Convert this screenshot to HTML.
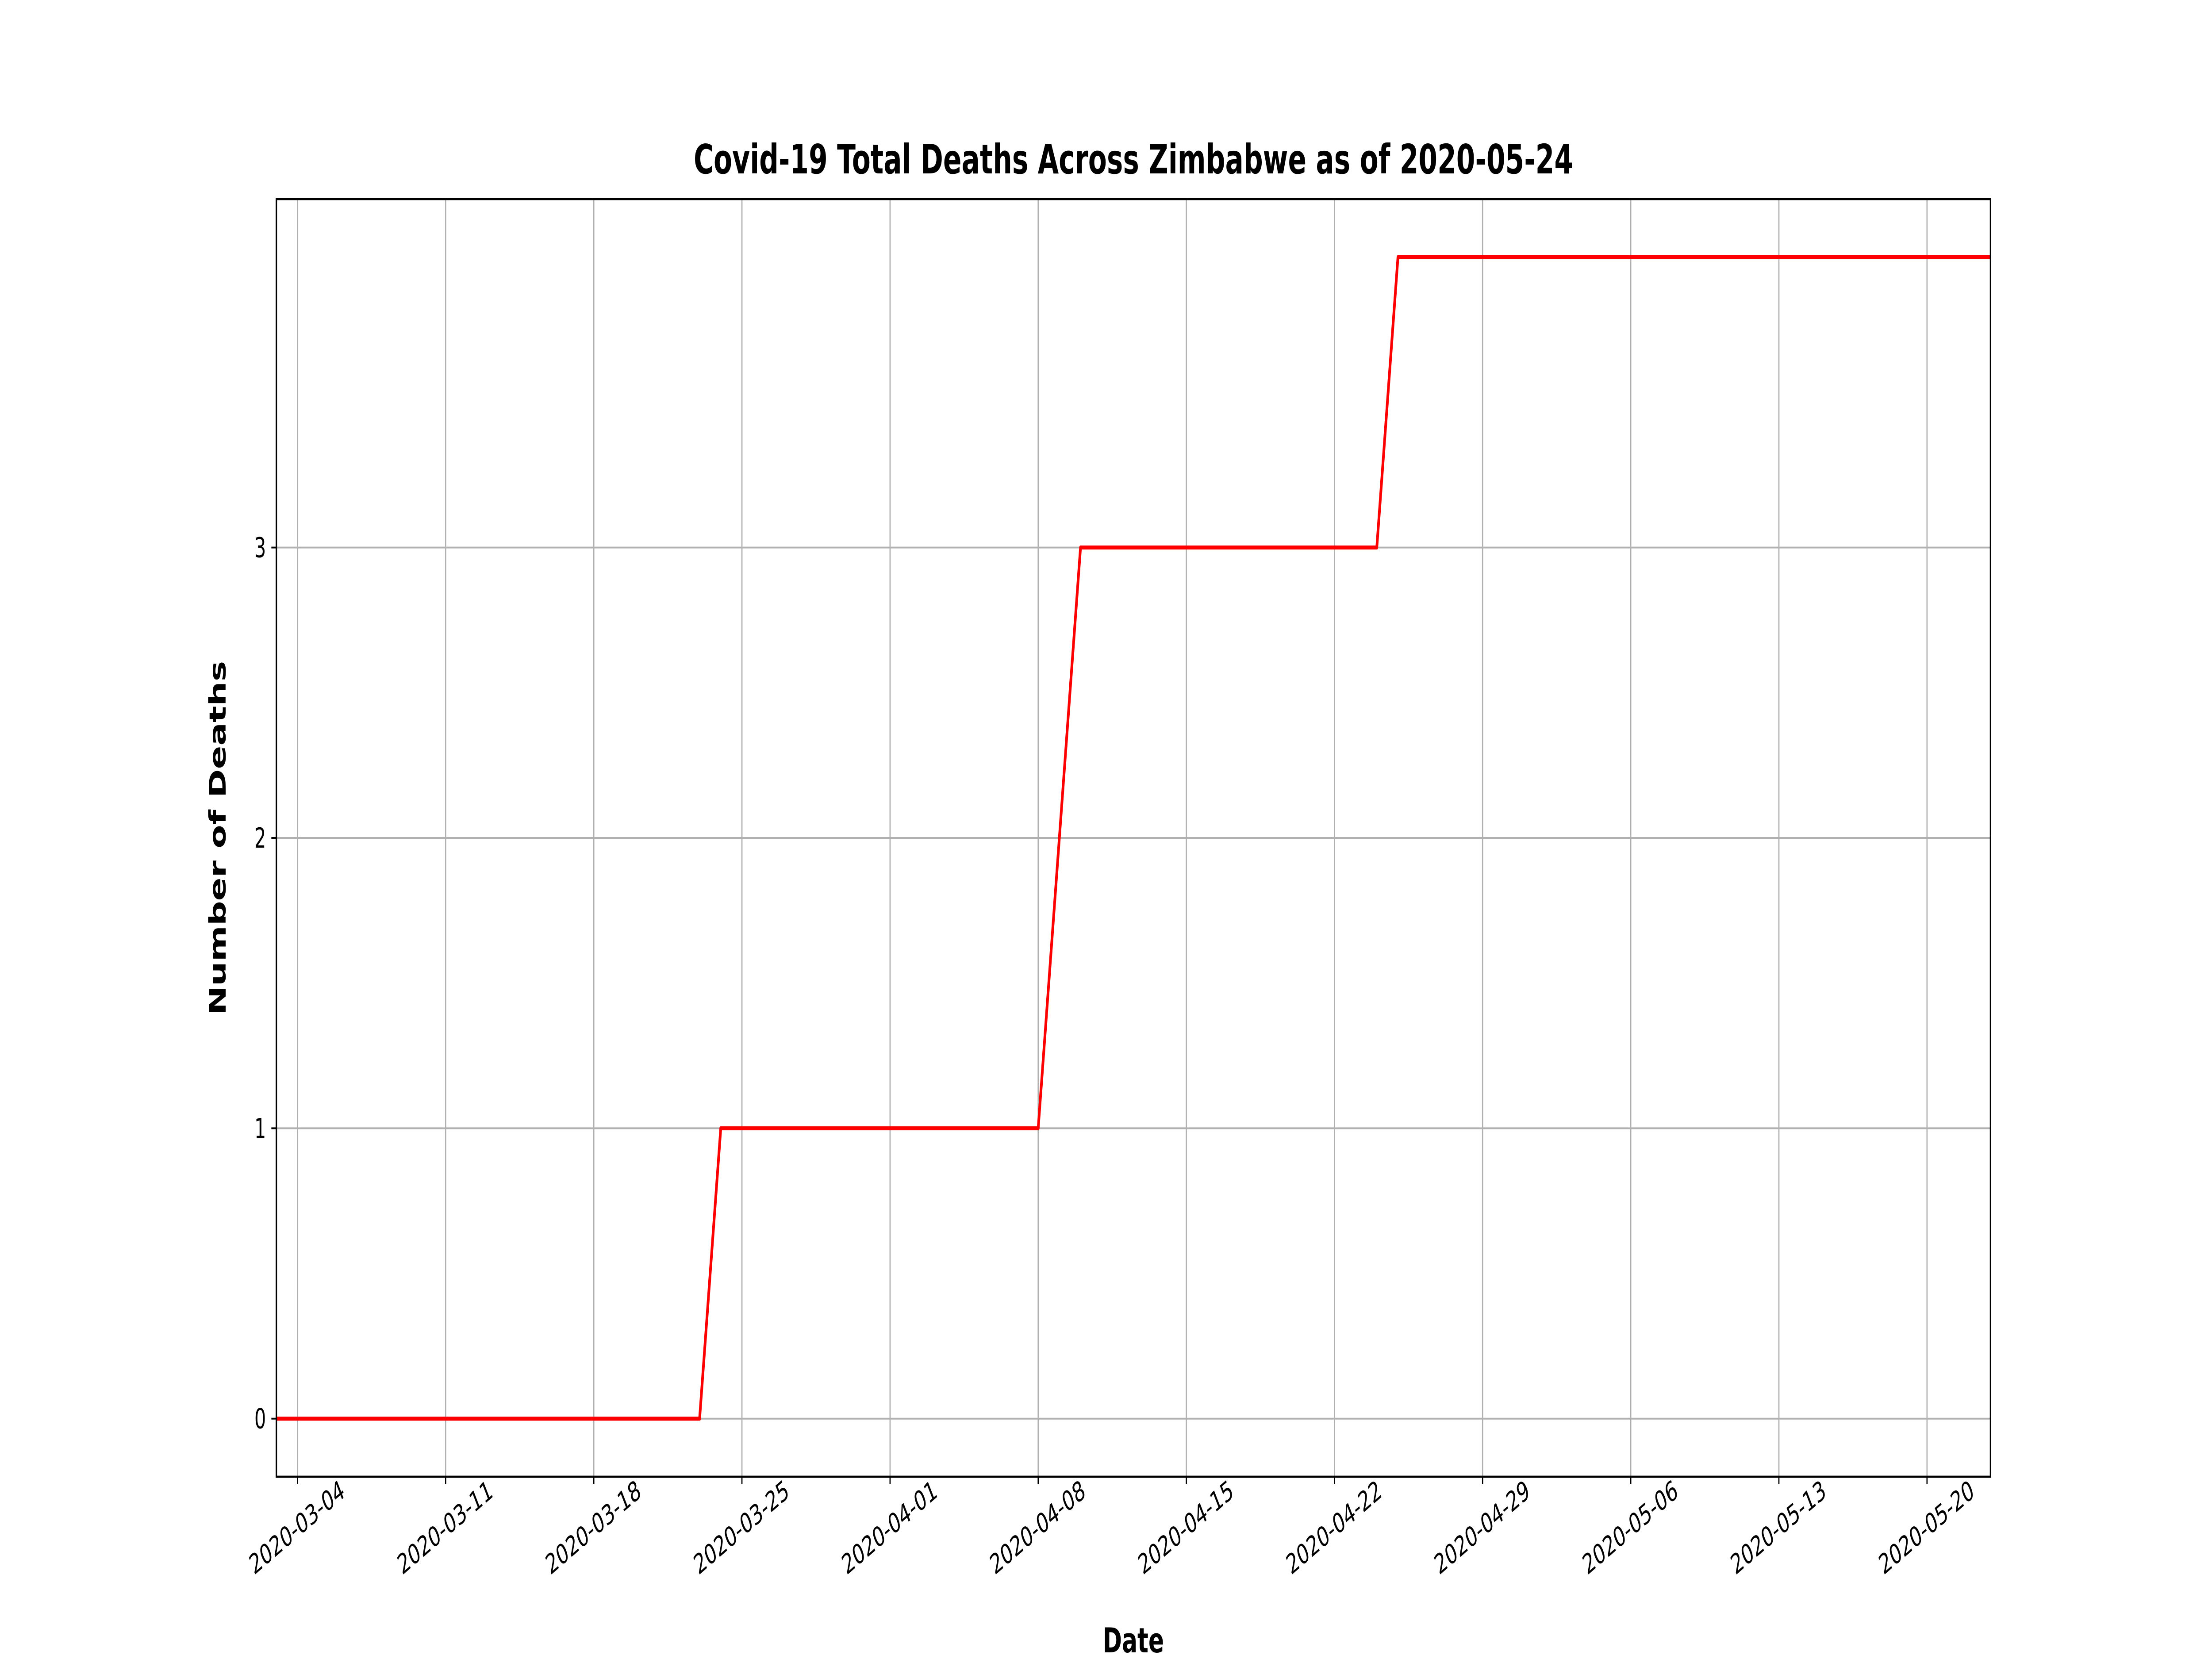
<!DOCTYPE html>
<html><head><meta charset="utf-8"><style>
html,body{margin:0;padding:0;background:#fff;width:100%;height:100%;overflow:hidden;}
svg{display:block;width:100vw;height:100vh;font-family:"DejaVu Sans","Liberation Sans",sans-serif;}
</style></head><body>
<svg id="chart" viewBox="0 0 7500 3750" preserveAspectRatio="none" xmlns="http://www.w3.org/2000/svg">
<rect width="7500" height="3750" fill="#fff"/>
<g id="grid"></g>
<g id="ticks"></g>
<g id="series"></g>
<rect x="937" y="450" width="5812" height="2888" fill="none" stroke="#000" stroke-width="4.8"/>
<text x="3843" y="392" font-size="92" font-weight="bold" text-anchor="middle">Covid-19 Total Deaths Across Zimbabwe as of 2020-05-24</text>
<text x="3843" y="3735" font-size="78" font-weight="bold" text-anchor="middle">Date</text>
<text x="0" y="0" font-size="78" font-weight="bold" text-anchor="middle" transform="translate(765,1894) rotate(-90)">Number of Deaths</text>
</svg>
<script>
const startDate = "2020-03-03";
const values = [0,0,0,0,0,0,0,0,0,0,0,0,0,0,0,0,0,0,0,0,0,
1,1,1,1,1,1,1,1,1,1,1,1,1,1,1,1,
2,
3,3,3,3,3,3,3,3,3,3,3,3,3,3,3,
4,4,4,4,4,4,4,4,4,4,4,4,4,4,4,4,4,4,4,4,4,4,4,4,4,4,4,4,4];
const xTickLabels = ["2020-03-04","2020-03-11","2020-03-18","2020-03-25","2020-04-01","2020-04-08","2020-04-15","2020-04-22","2020-04-29","2020-05-06","2020-05-13","2020-05-20"];
const yTicks = [0,1,2,3];

const NS="http://www.w3.org/2000/svg";
const L=937,R=6749,T=450,B=3338;
const d0=Date.parse(startDate);
const dayIdx=s=>(Date.parse(s)-d0)/86400000;
const xMax=values.length-1;
const x=i=>L+(i/xMax)*(R-L);
const yMin=-0.2,yMax=4.2;
const y=v=>B-(v-yMin)/(yMax-yMin)*(B-T);
function mk(tag,attrs,parent){const e=document.createElementNS(NS,tag);for(const k in attrs)e.setAttribute(k,attrs[k]);parent.appendChild(e);return e;}
const grid=document.getElementById('grid'),ticks=document.getElementById('ticks'),series=document.getElementById('series');
xTickLabels.forEach(lab=>{
  const px=x(dayIdx(lab));
  const g=mk('line',{x1:px,x2:px,y1:T,y2:B,stroke:'#b0b0b0','stroke-width':4},grid);
  
  
  const t=mk('line',{x1:px,x2:px,y1:B,y2:B+17,stroke:'#000','stroke-width':4},ticks);
  
  
  const tx=mk('text',{x:0,y:0,'font-size':62,'text-anchor':'middle','dominant-baseline':'middle',transform:`translate(${px},${B+118}) rotate(-30)`},ticks);
  tx.textContent=lab;
  
  
});
yTicks.forEach(v=>{
  const py=y(v);
  const g=mk('line',{x1:L,x2:R,y1:py,y2:py,stroke:'#b0b0b0','stroke-width':4},grid);
  
  
  const t=mk('line',{x1:L-17,x2:L,y1:py,y2:py,stroke:'#000','stroke-width':4},ticks);
  
  
  const tx=mk('text',{x:L-35,y:py+22,'font-size':62,'text-anchor':'end'},ticks);
  tx.textContent=String(v);
  
  
});
const pts=values.map((v,i)=>x(i)+','+y(v)).join(' ');
const line=mk('polyline',{points:pts,fill:'none',stroke:'#ff0000','stroke-width':9,'stroke-linejoin':'round'},series);


</script>
</body></html>
